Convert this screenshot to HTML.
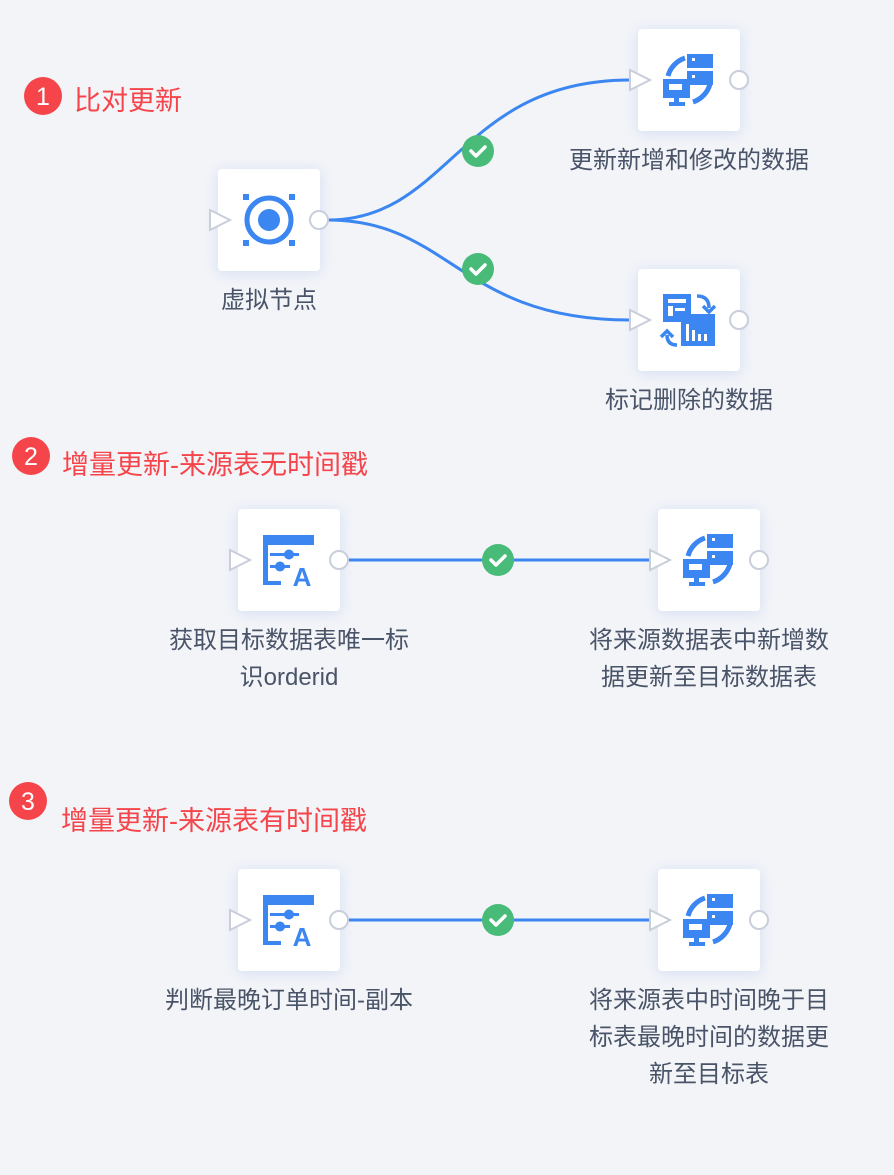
<!DOCTYPE html>
<html><head><meta charset="utf-8"><style>
html,body{margin:0;padding:0;background:#f2f4f8;width:894px;height:1175px;overflow:hidden;position:relative;font-family:"Liberation Sans","Noto Sans CJK SC",sans-serif}
.node{position:absolute;width:102px;height:102px;background:#fff;border-radius:4px;box-shadow:0 2px 14px rgba(80,120,220,0.18)}
.lbl{position:absolute;color:#4a5468;font-size:24px;line-height:37px;text-align:center;white-space:nowrap}
.title{position:absolute;color:#f5454a;font-size:27px;line-height:30px;white-space:nowrap}
</style></head><body>
<div class="node" style="left:218px;top:169px"></div>
<div class="node" style="left:638px;top:29px"></div>
<div class="node" style="left:638px;top:269px"></div>
<div class="node" style="left:238px;top:509px"></div>
<div class="node" style="left:658px;top:509px"></div>
<div class="node" style="left:238px;top:869px"></div>
<div class="node" style="left:658px;top:869px"></div>

<svg width="894" height="1175" style="position:absolute;left:0;top:0">
<defs>
<g id="tri"><path d="M-10,-10 L10,0 L-10,10 Z" fill="#fff" stroke="#c8ceda" stroke-width="2"/></g>
<g id="circ"><circle r="9" fill="#fff" stroke="#c8ceda" stroke-width="2"/></g>
<g id="chk"><circle r="16" fill="#48bb78"/><path d="M-7,0 L-2,5 L7,-4" fill="none" stroke="#fff" stroke-width="3.5" stroke-linecap="round" stroke-linejoin="round"/></g>
<g id="srv" fill="#3b86f0">
 <path d="M-4,-22 A26,26 0 0 0 -21,-4" fill="none" stroke="#3b86f0" stroke-width="5"/>
 <path d="M4,22 A26,26 0 0 0 21,4" fill="none" stroke="#3b86f0" stroke-width="5"/>
 <rect x="-2" y="-26" width="26" height="14"/><rect x="-2" y="-9" width="26" height="14"/>
 <rect x="3" y="-22" width="3" height="3" fill="#fff"/><rect x="3" y="-5" width="3" height="3" fill="#fff"/>
 <rect x="-26" y="-1" width="27" height="19"/><rect x="-20" y="4" width="13" height="6" fill="#fff"/>
 <rect x="-15" y="18" width="5" height="5"/><rect x="-20" y="22" width="16" height="4"/>
</g>
<g id="tbl" fill="#3b86f0">
 <rect x="-26" y="-25" width="51" height="10"/>
 <rect x="-26" y="-25" width="5" height="50"/>
 <rect x="-21" y="21" width="13" height="4"/>
 <rect x="-19" y="-7" width="29" height="3"/><circle cx="0" cy="-5.5" r="5"/>
 <rect x="-19" y="5" width="20" height="3"/><circle cx="-9" cy="6.5" r="5"/>
 <text x="13" y="26" font-family="Liberation Sans" font-weight="bold" font-size="26" text-anchor="middle" fill="#3b86f0">A</text>
</g>
<g id="del" fill="#3b86f0">
 <rect x="-26" y="-26" width="28" height="28"/><rect x="-21" y="-21" width="18" height="4" fill="#fff"/><rect x="-21" y="-14" width="5" height="10" fill="#fff"/><rect x="-14" y="-12" width="10" height="3" fill="#fff"/>
 <rect x="-8" y="-6" width="34" height="32"/><rect x="-3" y="4" width="3" height="17" fill="#fff"/><rect x="3" y="10" width="3" height="11" fill="#fff"/><rect x="9" y="14" width="3" height="7" fill="#fff"/><rect x="15" y="14" width="3" height="7" fill="#fff"/>
 <path d="M8,-24 q12,0 12,12" fill="none" stroke="#3b86f0" stroke-width="3.5"/><path d="M14,-14 l6,6 l6,-6" fill="none" stroke="#3b86f0" stroke-width="3.5"/>
 <path d="M-12,25 q-10,0 -10,-10" fill="none" stroke="#3b86f0" stroke-width="3.5"/><path d="M-28,17 l6,-6 l6,6" fill="none" stroke="#3b86f0" stroke-width="3.5"/>
</g>
</defs>

<path d="M328,220 C450,220 460,80 630,80" fill="none" stroke="#3b86f0" stroke-width="3"/>
<path d="M328,220 C450,220 460,320 630,320" fill="none" stroke="#3b86f0" stroke-width="3"/>
<path d="M348,560 L650,560" stroke="#3b86f0" stroke-width="3"/>
<path d="M348,920 L650,920" stroke="#3b86f0" stroke-width="3"/>

<use href="#tri" x="220" y="220"/><use href="#circ" x="319" y="220"/>
<use href="#tri" x="640" y="80"/><use href="#circ" x="739" y="80"/>
<use href="#tri" x="640" y="320"/><use href="#circ" x="739" y="320"/>
<use href="#tri" x="240" y="560"/><use href="#circ" x="339" y="560"/>
<use href="#tri" x="660" y="560"/><use href="#circ" x="759" y="560"/>
<use href="#tri" x="240" y="920"/><use href="#circ" x="339" y="920"/>
<use href="#tri" x="660" y="920"/><use href="#circ" x="759" y="920"/>

<g transform="translate(269,220)">
 <circle r="22" fill="none" stroke="#3b86f0" stroke-width="5"/><circle r="11" fill="#3b86f0"/>
 <g fill="#3b86f0"><rect x="-26" y="-26" width="6" height="6"/><rect x="20" y="-26" width="6" height="6"/><rect x="-26" y="20" width="6" height="6"/><rect x="20" y="20" width="6" height="6"/></g>
</g>
<use href="#srv" x="689" y="80"/>
<use href="#del" x="689" y="320"/>
<use href="#tbl" x="289" y="560"/>
<use href="#srv" x="709" y="560"/>
<use href="#tbl" x="289" y="920"/>
<use href="#srv" x="709" y="920"/>

<use href="#chk" x="478" y="151"/>
<use href="#chk" x="478" y="269"/>
<use href="#chk" x="498" y="560"/>
<use href="#chk" x="498" y="920"/>

<circle cx="43" cy="96" r="19" fill="#f5454a"/>
<text x="43" y="105" font-family="Liberation Sans" font-size="25" fill="#fff" text-anchor="middle">1</text>
<circle cx="31" cy="456" r="19" fill="#f5454a"/>
<text x="31" y="465" font-family="Liberation Sans" font-size="25" fill="#fff" text-anchor="middle">2</text>
<circle cx="28" cy="801" r="19" fill="#f5454a"/>
<text x="28" y="810" font-family="Liberation Sans" font-size="25" fill="#fff" text-anchor="middle">3</text>
</svg>

<div class="title" style="left:74px;top:86px">比对更新</div>
<div class="title" style="left:62px;top:450px">增量更新-来源表无时间戳</div>
<div class="title" style="left:61px;top:806px">增量更新-来源表有时间戳</div>

<div class="lbl" style="left:119px;width:300px;top:282px">虚拟节点</div>
<div class="lbl" style="left:539px;width:300px;top:142px">更新新增和修改的数据</div>
<div class="lbl" style="left:539px;width:300px;top:382px">标记删除的数据</div>
<div class="lbl" style="left:139px;width:300px;top:622px">获取目标数据表唯一标<br>识orderid</div>
<div class="lbl" style="left:559px;width:300px;top:622px">将来源数据表中新增数<br>据更新至目标数据表</div>
<div class="lbl" style="left:139px;width:300px;top:982px">判断最晚订单时间-副本</div>
<div class="lbl" style="left:559px;width:300px;top:982px">将来源表中时间晚于目<br>标表最晚时间的数据更<br>新至目标表</div>
</body></html>
